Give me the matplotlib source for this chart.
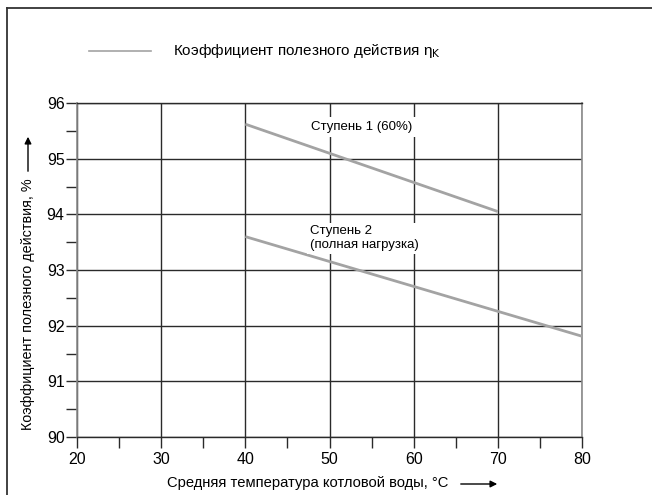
import numpy as np
import matplotlib.pyplot as plt
from matplotlib.lines import Line2D
from matplotlib.patches import FancyArrowPatch

plt.rcParams['font.family'] = ['Liberation Sans', 'DejaVu Sans']

# data
temp_1 = [40, 70]
eff_1 = [95.62, 94.05]
temp_2 = [40, 80]
eff_2 = [93.6, 91.81]

xticks = [20, 30, 40, 50, 60, 70, 80]
yticks = [90, 91, 92, 93, 94, 95, 96]

fig = plt.figure(figsize=(6.52, 4.95), dpi=100)
ax = fig.add_axes([77/652, 1 - 437/495, 505/652, 334/495])

gcol = '#2a2a2a'
lcol = '#a3a3a3'

ax.plot(temp_1, eff_1, color=lcol, lw=2, solid_capstyle='butt', zorder=3)
ax.plot(temp_2, eff_2, color=lcol, lw=2, solid_capstyle='butt', zorder=3)

ax.set_xlim(20, 80)
ax.set_ylim(90, 96)
ax.set_xticks(xticks)
ax.set_yticks(yticks)
ax.set_xticks(np.arange(25, 80, 10), minor=True)
ax.set_yticks(np.arange(90.5, 96, 1), minor=True)
ax.grid(True, which='major', color=gcol, lw=1, zorder=1)
ax.tick_params(which='both', direction='out', color=gcol, width=1, labelsize=11.5)
ax.tick_params(axis='x', which='both', length=8, pad=3, top=False)
ax.tick_params(axis='y', which='both', length=8, pad=1)
for s in ['left', 'right']:
    ax.spines[s].set_color('#8a8a8a')
    ax.spines[s].set_linewidth(1.2)
for s in ['top', 'bottom']:
    ax.spines[s].set_color(gcol)
    ax.spines[s].set_linewidth(1)

ax.text(47.86, 95.57, 'Ступень 1 (60%)', fontsize=9.5, va='center', ha='left',
        bbox=dict(facecolor='white', edgecolor='none', pad=3), zorder=4)
ax.text(47.66, 93.57, 'Ступень 2\n(полная нагрузка)', fontsize=9.5, va='center', ha='left',
        linespacing=1.2, bbox=dict(facecolor='white', edgecolor='none', pad=2), zorder=4)

# outer frame (open at right and bottom)
fig.add_artist(Line2D([7/652, 7/652], [0, 1 - 7.5/495], color='#333333', lw=1.3))
fig.add_artist(Line2D([7/652, 1], [1 - 7.5/495, 1 - 7.5/495], color='#333333', lw=1.3))

# legend
fig.add_artist(Line2D([89/652, 151/652], [1 - 50.5/495, 1 - 50.5/495], color=lcol, lw=1.2))
fig.text(173/652, 1 - 50.5/495, r'Коэффициент полезного действия η$_\mathrm{K}$',
         fontsize=11, va='center', ha='left')

# axis labels with arrows
fig.text(167/652, 1 - 483/495, 'Средняя температура котловой воды, °C',
         fontsize=10.6, va='center', ha='left')
fig.add_artist(FancyArrowPatch((458/652, 1 - 484/495), (500/652, 1 - 484/495),
                               transform=fig.transFigure, arrowstyle='-|>',
                               mutation_scale=10, color='black', lw=1))
fig.text(28/652, 1 - 430/495, 'Коэффициент полезного действия, %',
         fontsize=10.4, va='bottom', ha='center', rotation=90)
fig.add_artist(FancyArrowPatch((28/652, 1 - 174/495), (28/652, 1 - 134/495),
                               transform=fig.transFigure, arrowstyle='-|>',
                               mutation_scale=10, color='black', lw=1))

fig.savefig('out.png', dpi=100)
